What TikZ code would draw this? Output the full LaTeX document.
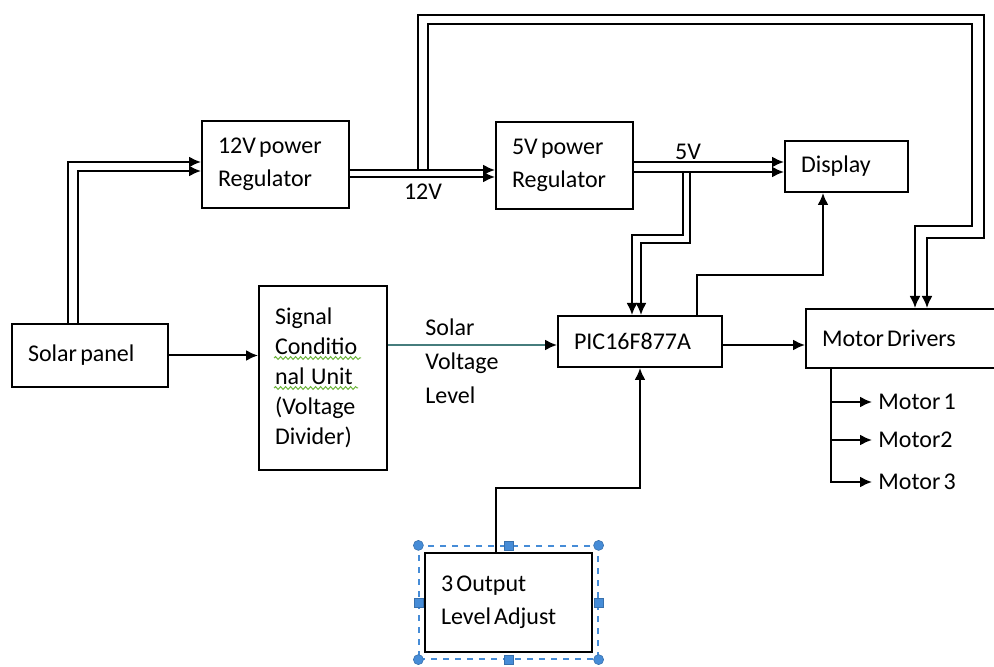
\documentclass[tikz,border=0pt]{standalone}
\usepackage{fontspec}
\setmainfont{Carlito}[WordSpace=0.6]
\usetikzlibrary{arrows.meta,positioning,calc,fit,decorations.pathmorphing}
\definecolor{selblue}{RGB}{70,140,215}
\definecolor{spellgreen}{RGB}{110,180,60}
\definecolor{sigteal}{RGB}{70,125,125}
\tikzset{
 box/.style={draw,line width=1pt,align=flush left,inner xsep=8pt,inner ysep=0pt,
             font=\fontsize{12}{16.5}\selectfont},
 arrow/.style={-{Latex[length=6pt,width=5.5pt]},line width=1pt},
 lbl/.style={inner sep=0pt,align=flush left,font=\fontsize{12}{17}\selectfont},
 selframe/.style={draw=selblue,dashed,line width=0.6pt},
 handle/.style={fill=selblue,draw=selblue!80!black,inner sep=0pt,line width=0.3pt},
 squiggle/.style={draw=spellgreen,line width=0.5pt,decorate,
             decoration={snake,amplitude=0.7pt,segment length=2.5pt}}
}

\begin{document}
\begin{tikzpicture}[x=0.5pt,y=-0.5pt]
\useasboundingbox (0,0) rectangle (994,667);
% blocks
\node[box,text width=62pt,minimum height=31.5pt] (solar) at (90,355.5) {Solar panel\\[2pt]};
\node[box,text width=57.5pt,minimum height=43.5pt] (reg12) at (275.5,164.5) {12V power\\Regulator};
\node[box,text width=48pt,minimum height=92pt,font=\fontsize{12}{15}\selectfont] (signal) at (323,378)
  {Signal\\Conditio\\nal\ \ Unit\\(Voltage\\Divider)\\[4pt]};
\node[box,text width=52.5pt,minimum height=43.5pt] (reg5) at (564.5,165.5) {5V power\\Regulator};
\node[box,text width=45.5pt,minimum height=25.5pt] (display) at (846.5,166.5) {Display};
\node[box,text width=66pt,minimum height=25.5pt] (pic) at (640,341.5) {PIC16F877A};
\node[box,text width=86pt,minimum height=29.5pt] (motor) at (908,338.5) {Motor Drivers};
\node[box,text width=67.5pt,minimum height=49.5pt] (output3) at (508.5,602.5) {3 Output\\Level Adjust\\[2pt]};
% labels
\node[lbl] (v12) at (423,192) {12V};
\node[lbl] (v5) at (688,152) {5V};
\node[lbl,anchor=west] (svl) at (425,361) {Solar\\Voltage\\Level};
\node[lbl,inner xsep=3pt,anchor=west] (m1) at (872,402) {Motor 1};
\node[lbl,inner xsep=3pt,anchor=west] (m2) at (872,440) {Motor2};
\node[lbl,inner xsep=3pt,anchor=west] (m3) at (872,482) {Motor 3};
% spelling marks
\draw[squiggle] ($(signal.north west)+(16,73)$) -- ++(87,0);
\draw[squiggle] ($(signal.north west)+(16,103)$) -- ++(84,0);
% selection frame round the adjust block
\node[selframe,fit=(output3),inner xsep=2.5pt,inner ysep=3pt] (sel) {};
\foreach \a in {north west,north east,south west,south east}
  \node[handle,circle,minimum size=5pt] at (sel.\a) {};
\foreach \a in {north,south,east,west}
  \node[handle,rectangle,minimum size=4.5pt] at (sel.\a) {};
% power lines
\draw[arrow] ($(solar.north)+(-22,0)$) |- ($(reg12.west)+(0,-2.5)$);
\draw[arrow] ($(solar.north)+(-12,0)$) |- ($(reg12.west)+(0,6.5)$);
\draw[arrow] ($(reg12.east)+(0,5.5)$) -- ($(reg5.west)+(0,4.5)$);
\draw[arrow] ($(reg12.east)+(0,12.5)$) -- ($(reg5.west)+(0,11.5)$);
\coordinate (tap12o) at ($(reg12.east)+(68,5.5)$);
\coordinate (tap12i) at ($(reg12.east)+(78,5.5)$);
\draw[arrow] (tap12o) |- (984,15) |- ($(motor.north west)+(122,-70)$) -- ($(motor.north west)+(122,0)$);
\draw[arrow] (tap12i) |- (972,24) |- ($(motor.north west)+(110,-82)$) -- ($(motor.north west)+(110,0)$);
\draw[arrow] ($(reg5.east)+(0,-3.5)$) -- ($(display.west)+(0,-4.5)$);
\draw[arrow] ($(reg5.east)+(0,6.5)$) -- ($(display.west)+(0,5.5)$);
\coordinate (tap5a) at ($(reg5.east)+(49,6.5)$);
\coordinate (tap5b) at ($(reg5.east)+(56,6.5)$);
\draw[arrow] (tap5a) -- ++(0,63) -| ($(pic.north)+(-8,0)$);
\draw[arrow] (tap5b) -- ++(0,71) -| ($(pic.north)+(1,0)$);
% signal lines
\draw[arrow] (solar.east) -- (solar.east -| signal.west);
\coordinate (sv) at ($(pic.west)+(0,3.5)$);
\draw[arrow,sigteal,-{Latex[length=6pt,width=5.5pt,color=black]}] (signal.east |- sv) -- (sv);
\draw[arrow] ($(pic.north)+(57,0)$) -- ++(0,-40) -| ($(display.south)+(-23.5,0)$);
\draw[arrow] ($(pic.east)+(0,3.5)$) -- ($(motor.west)+(0,6.5)$);
\draw[arrow] ($(output3.north)+(-12.5,0)$) -- ++(0,-64) -| (pic.south);
\coordinate (branch) at ($(motor.south west)+(26,0)$);
\foreach \m in {m1,m2,m3}
  \draw[arrow] (branch) |- (\m.west);
\end{tikzpicture}
\end{document}
